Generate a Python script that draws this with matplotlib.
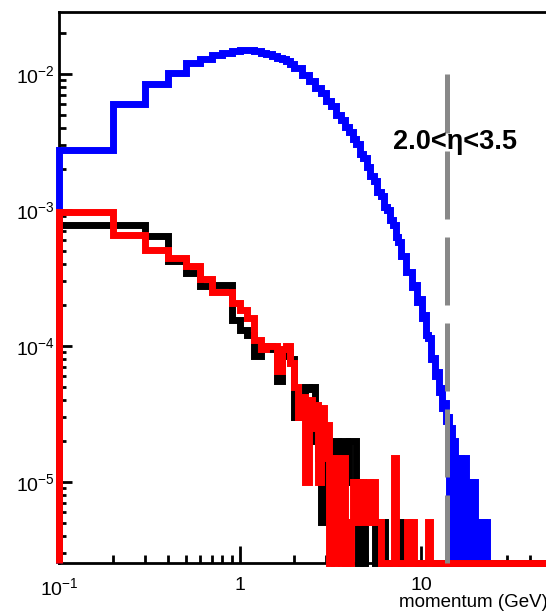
import numpy as np
import matplotlib
matplotlib.use("Agg")
import matplotlib.pyplot as plt
from matplotlib.ticker import NullFormatter, LogLocator

plt.rcParams['font.family'] = ['Liberation Sans', 'DejaVu Sans']
plt.rcParams['mathtext.fontset'] = 'custom'
plt.rcParams['mathtext.rm'] = 'Liberation Sans'

# momentum spectra, 2.0 < eta < 3.5 (bin edges in GeV, contents normalised)
blue_edges = [0.1, 0.2, 0.3, 0.4, 0.5, 0.6, 0.7, 0.8, 0.9, 1.0,
              1.1, 1.2, 1.3, 1.4, 1.5, 1.6, 1.7, 1.8, 1.9, 2.0,
              2.2, 2.4, 2.6, 2.8, 3.0, 3.2, 3.4, 3.6, 3.8, 4.0,
              4.2, 4.4, 4.6, 4.8, 5.0,
              5.25, 5.5, 5.75, 6.0, 6.25, 6.5, 6.75, 7.0, 7.25, 7.5, 7.75, 8.0,
              8.3, 8.6, 8.9, 9.2, 9.5, 9.8, 10.1, 10.4, 10.7, 11.0,
              11.3, 11.6, 11.9, 12.2, 12.5, 12.8, 13.1, 13.4, 13.7, 14.0,
              14.2, 14.5, 14.8, 15.1, 15.4, 15.7, 16.0, 16.3, 16.6, 16.9,
              17.2, 17.5, 17.8, 18.2, 18.5, 18.9, 19.2, 19.6, 19.9, 20.4,
              20.7, 21.2, 21.5, 22.0, 22.3, 22.8, 23.2, 50.0]
blue_vals = [2.76e-3, 6.0e-3, 8.45e-3, 1.02e-2, 1.2e-2, 1.30e-2, 1.38e-2, 1.44e-2, 1.48e-2, 1.51e-2,
             1.51e-2, 1.48e-2, 1.44e-2, 1.40e-2, 1.36e-2, 1.32e-2, 1.29e-2, 1.24e-2, 1.18e-2,
             1.11e-2, 9.8e-3, 8.9e-3, 7.9e-3, 7.2e-3, 6.3e-3, 5.8e-3, 5.0e-3, 4.6e-3, 4.05e-3,
             3.75e-3, 3.3e-3, 3.05e-3, 2.6e-3, 2.4e-3,
             2.06e-3, 1.78e-3, 1.62e-3, 1.36e-3, 1.27e-3, 1.06e-3, 1.0e-3, 8.4e-4, 7.8e-4, 6.3e-4,
             5.8e-4, 4.6e-4,
             4.6e-4, 3.5e-4, 3.5e-4, 2.7e-4, 2.8e-4, 2.1e-4, 2.2e-4, 1.6e-4, 1.7e-4, 1.2e-4,
             1.15e-4, 8.0e-5, 8.2e-5, 6.0e-5, 6.4e-5, 4.6e-5, 4.9e-5, 3.5e-5, 3.8e-5, 2.8e-5,
             3.0e-5,
             0, 2.5e-5, 0, 2.0e-5, 0, 1.5e-5, 0, 1.5e-5, 0, 1.0e-5, 0, 1.5e-5, 0,
             1.0e-5, 0, 1.0e-5, 0, 1.0e-5, 0, 5.1e-6, 0, 5.1e-6, 0, 5.1e-6, 0, 5.1e-6, 0]

black_edges = [0.1, 0.2, 0.3, 0.4, 0.5, 0.6, 0.7, 0.8, 0.9, 1.0,
               1.1, 1.2, 1.3, 1.4, 1.5, 1.6, 1.7, 1.8, 1.9, 2.0,
               2.1, 2.2, 2.3, 2.4, 2.5, 2.6, 2.7, 2.8, 2.9, 3.0,
               3.3, 3.5, 3.6, 3.9, 4.0, 4.4, 4.5, 4.6, 4.8, 4.9,
               5.0, 5.6, 6.0, 6.3, 7.6, 7.8, 50.0]
black_vals = [7.7e-4, 7.7e-4, 6.45e-4, 4.2e-4, 3.45e-4, 2.75e-4, 2.8e-4, 2.8e-4, 1.55e-4, 1.3e-4,
              1.2e-4, 8.5e-5, 1.0e-4, 1.0e-4, 9.5e-5, 5.5e-5, 8.5e-5, 9.0e-5, 8.0e-5,
              3.0e-5, 4.0e-5, 3.0e-5, 5.0e-5, 4.8e-5, 5.0e-5, 2.0e-5, 1.5e-5, 5.1e-6, 1.5e-5,
              1.0e-5, 2.0e-5, 1.0e-5, 2.0e-5, 1.0e-5, 2.0e-5, 1.0e-5, 0, 1.0e-5, 0,
              5.1e-6, 5.1e-6, 0, 5.1e-6, 0, 5.1e-6, 0]

red_edges = [0.1, 0.2, 0.3, 0.4, 0.5, 0.6, 0.7, 0.8, 0.9, 1.0,
             1.1, 1.2, 1.3, 1.4, 1.5, 1.6, 1.7, 1.8, 1.9, 2.0,
             2.1, 2.2, 2.3, 2.4, 2.5, 2.6, 2.7, 2.8, 2.9, 3.0,
             3.1, 3.2, 3.3, 3.4, 3.5, 3.6, 3.7, 3.8, 3.9, 4.0,
             4.1, 4.2, 4.4, 4.5, 4.7, 4.9, 5.0, 5.2, 5.4, 5.6,
             6.0, 7.1, 7.3, 8.4, 8.6, 8.8, 9.1, 11.0, 11.2, 50.0]
red_vals = [9.7e-4, 6.55e-4, 5.1e-4, 4.4e-4, 3.9e-4, 3.1e-4, 2.5e-4, 2.5e-4, 2.07e-4, 1.84e-4,
            1.6e-4, 1.1e-4, 9.5e-5, 1.0e-4, 1.0e-4, 6.5e-5, 9.5e-5, 1.0e-4, 7.5e-5,
            5.0e-5, 3.0e-5, 4.2e-5, 1.0e-5, 4.0e-5, 2.5e-5, 3.7e-5, 1.0e-5, 3.5e-5, 1.5e-5,
            2.6e-5, 0, 1.5e-5, 0, 1.5e-5, 5.1e-6, 0, 1.5e-5, 0, 5.1e-6,
            0, 5.1e-6, 1.0e-5, 5.1e-6, 1.0e-5, 5.1e-6, 5.1e-6, 1.0e-5, 5.1e-6, 1.0e-5,
            5.1e-6, 0, 1.5e-5, 0, 5.1e-6, 0, 5.1e-6, 0, 5.1e-6, 0]

p_cut = 14.0
cut_top = 1e-2
x_ticks = [0.1, 1, 10]
x_tick_labels = [r'$\mathdefault{10^{-1}}$', '1', '10']

xmin, xmax = 0.1, 50.0
ymin, ymax = 2.53e-6, 2.86e-2

fig = plt.figure(figsize=(5.46, 6.13), dpi=100)
ax = fig.add_axes([59 / 546, 50 / 613, 488.5 / 546, 551 / 613])
ax.set_xscale('log')
ax.set_yscale('log')
ax.set_xlim(xmin, xmax)
ax.set_ylim(ymin, ymax)

# empty bins sit on the frame bottom
for edges, vals, col, z in [(blue_edges, blue_vals, '#0000ff', 3.0),
                             (black_edges, black_vals, 'black', 3.1),
                             (red_edges, red_vals, '#ff0000', 3.2)]:
    v = np.asarray(vals, dtype=float)
    v = np.where(v > 0, v, ymin)
    ax.stairs(v, edges, baseline=ymin, color=col, linewidth=5,
              zorder=z, clip_on=False)

ax.plot([p_cut, p_cut], [ymin, cut_top], color='#888888', lw=3.6,
        linestyle=(0, (13.6, 3.6)), zorder=4, clip_on=False)

ax.text(0.684, 0.751, '2.0<η<3.5', transform=ax.transAxes, fontsize=19.5,
        fontweight='bold', ha='left', va='baseline', zorder=6)

for s in ['top', 'left', 'bottom']:
    ax.spines[s].set_linewidth(2)
ax.spines['right'].set_visible(False)

ax.set_xticks(x_ticks)
ax.set_xticklabels(x_tick_labels)
ax.xaxis.set_minor_locator(LogLocator(base=10, subs=np.arange(2, 10)))
ax.xaxis.set_minor_formatter(NullFormatter())
ax.yaxis.set_minor_locator(LogLocator(base=10, subs=np.arange(2, 10)))
ax.yaxis.set_minor_formatter(NullFormatter())

ax.tick_params(axis='x', which='major', direction='in', length=12, width=2,
               labelsize=14, pad=10)
ax.tick_params(axis='x', which='minor', direction='in', length=6, width=2)
ax.tick_params(axis='y', which='major', direction='in', length=9.5, width=2,
               labelsize=14, pad=3)
ax.tick_params(axis='y', which='minor', direction='in', length=5, width=2)

ax.set_xlabel('momentum (GeV)', fontsize=13.5, loc='right')
ax.xaxis.set_label_coords(1.0, -0.057)
ax.xaxis.label.set_va('top')

fig.savefig('out.png', dpi=100)
